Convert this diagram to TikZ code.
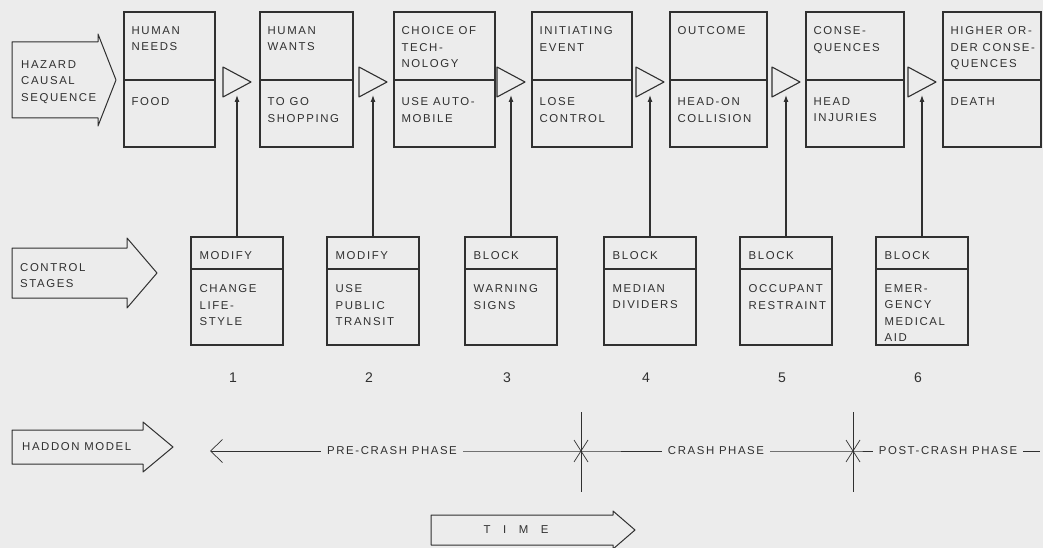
\documentclass[tikz,border=0pt]{standalone}
\usepackage{fontspec}
\newfontfamily\diagfont[LetterSpace=14]{Liberation Sans}
\usetikzlibrary{arrows.meta}
\definecolor{paper}{RGB}{236,236,236}
\definecolor{ink}{RGB}{48,48,48}
\tikzset{
  stagebox/.style={
    draw = ink,
    line width = 1.1pt,
    inner sep = 0
  },
  boxtext/.style={
    anchor = north west,
    align = left,
    inner sep = 0,
    text = ink,
    font = \diagfont\fontsize{11.4}{16.5}\selectfont
  },
  gate/.style={
    draw = ink,
    line width = 1.1pt,
    line join = round
  },
  lift/.style={
    draw = ink,
    line width = 1.1pt,
    -{Latex[length=7pt,width=5pt]}
  },
  blockarrow/.style={
    draw = ink,
    line width = 1pt,
    line join = round
  },
  phase/.style={
    text = ink,
    inner xsep = 6pt,
    inner ysep = 0,
    font = \diagfont\fontsize{11.4}{13}\selectfont
  },
  stagenum/.style={
    text = ink,
    inner sep = 0,
    font = \diagfont\fontsize{14}{16}\selectfont
  },
  timeline/.style={
    draw = ink,
    line width = 0.7pt
  }
}

\begin{document}
\begin{tikzpicture}[x=1pt,y=-1pt]
  \fill[paper] (0,0) rectangle (1043,548);
  \useasboundingbox (0,0) rectangle (1043,548);

  % left hand block arrows
  \draw[blockarrow] (12,42) -- (98,42) -- (98,34) -- (116,80) -- (98,126) -- (98,118) -- (12,118) -- cycle;
  \node[boxtext] (hazard) at (21,60) {HAZARD\\CAUSAL\\SEQUENCE};
  \draw[blockarrow] (12,248) -- (127,248) -- (127,238) -- (157,273) -- (127,308) -- (127,298) -- (12,298) -- cycle;
  \node[boxtext] (control) at (20,263) {CONTROL\\STAGES};
  \draw[blockarrow] (12,430) -- (143,430) -- (143,422) -- (173,447) -- (143,472) -- (143,464) -- (12,464) -- cycle;
  \node[phase, anchor=west, inner xsep=0] (haddon) at (22,447) {HADDON MODEL};

  % hazard causal sequence
  \foreach \i/\xl/\xr/\what/\eg in {
      1/124/215/{HUMAN\\NEEDS}/{FOOD},
      2/260/353/{HUMAN\\WANTS}/{TO GO\\SHOPPING},
      3/394/495/{CHOICE OF\\TECH-\\NOLOGY}/{USE AUTO-\\MOBILE},
      4/532/632/{INITIATING\\EVENT}/{LOSE\\CONTROL},
      5/670/767/{OUTCOME}/{HEAD-ON\\COLLISION},
      6/806/904/{CONSE-\\QUENCES}/{HEAD\\INJURIES},
      7/943/1041/{HIGHER OR-\\DER CONSE-\\QUENCES}/{DEATH}}{
    \node[stagebox, minimum width=\xr-\xl, minimum height=135] (h\i) at ({(\xl+\xr)/2},79.5) {};
    \draw[stagebox] (h\i.west |- 0,80) -- (h\i.east |- 0,80);
    \node[boxtext] (what\i) at ([shift={(8,15)}]h\i.north west) {\what};
    \node[boxtext] (eg\i) at ([shift={(8,86)}]h\i.north west) {\eg};
  }

  % control stages
  \foreach \i/\cx/\act/\how in {
      1/237/MODIFY/{CHANGE\\LIFE-\\STYLE},
      2/373/MODIFY/{USE\\PUBLIC\\TRANSIT},
      3/511/BLOCK/{WARNING\\SIGNS},
      4/650/BLOCK/{MEDIAN\\DIVIDERS},
      5/786/BLOCK/{OCCUPANT\\RESTRAINT},
      6/922/BLOCK/{EMER-\\GENCY\\MEDICAL\\AID}}{
    \node[stagebox, minimum width=92, minimum height=108] (c\i) at (\cx,291) {};
    \draw[stagebox] (c\i.west |- 0,269) -- (c\i.east |- 0,269);
    \node[boxtext] (act\i) at ([shift={(9,15)}]c\i.north west) {\act};
    \node[boxtext] (how\i) at ([shift={(9,48)}]c\i.north west) {\how};
    \node[stagenum] (n\i) at (\cx-4,378) {\i};
    \draw[gate] (\cx-14,67) -- (\cx+14,82) -- (\cx-14,97) -- cycle;
    \coordinate (g\i) at (\cx,95);
    \draw[lift] (c\i) -- (g\i);
  }

  % haddon model phases
  \coordinate (t0) at (210,451);
  \node[phase] (pre) at (392,451) {PRE-CRASH PHASE};
  \coordinate (x1) at (581,451);
  \node[phase] (crash) at (716,451) {CRASH PHASE};
  \coordinate (x2) at (853,451);
  \node[phase] (post) at (948,451) {POST-CRASH PHASE};
  \coordinate (t1) at (1040,451);
  \draw[timeline, {Straight Barb[length=12pt,width=23pt]}-] (t0) -- (pre);
  \draw[timeline] (pre) -- (x1) -- (crash);
  \draw[timeline] (crash) -- (x2) -- (post);
  \draw[timeline] (post) -- (t1);
  \foreach \c in {x1,x2}{
    \draw[timeline] (\c) ++(0,-39) -- ++(0,80);
    \draw[timeline] (\c) ++(-7,-11) -- ++(14,22);
    \draw[timeline] (\c) ++(-7,11) -- ++(14,-22);
  }

  % time
  \draw[blockarrow] (431,515) -- (613,515) -- (613,511) -- (635,530) -- (613,549) -- (613,545) -- (431,545) -- cycle;
  \node[phase, inner xsep=0] (time) at (516,530) {T\hspace{1.1em}I\hspace{1.1em}M\hspace{1.1em}E};
\end{tikzpicture}
\end{document}
